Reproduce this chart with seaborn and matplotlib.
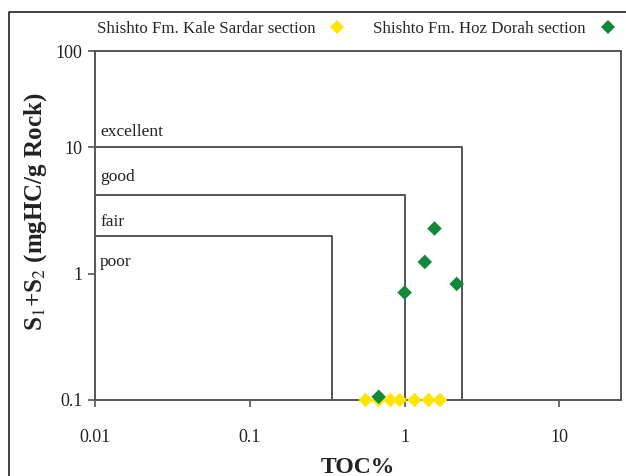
import numpy as np
import pandas as pd
import matplotlib
matplotlib.use("Agg")
import matplotlib.pyplot as plt
from matplotlib.lines import Line2D
from matplotlib.ticker import NullLocator
import seaborn as sns

# values
toc_kale = [0.56, 0.68, 0.81, 0.93, 1.16, 1.43, 1.69]
s12_kale = [0.1, 0.1, 0.1, 0.1, 0.1, 0.1, 0.1]
toc_hoz = [0.68, 1.0, 2.17, 1.35, 1.56]
s12_hoz = [0.106, 0.71, 0.83, 1.24, 2.28]
series = ["Shishto Fm. Kale Sardar section", "Shishto Fm. Hoz Dorah section"]

# potential classes: right TOC edge and top S1+S2 edge of each box
class_names = ["excellent", "good", "fair"]
class_toc = [2.35, 1.0, 0.34]
class_s12 = [10, 4.2, 2.0]
label_s12 = [14.3, 5.8, 2.57, 1.24]
label_names = ["excellent", "good", "fair", "poor"]

xticks = [0.01, 0.1, 1, 10]
yticks = [0.1, 1, 10, 100]

df = pd.DataFrame({
    "TOC": toc_kale + toc_hoz,
    "S1S2": s12_kale + s12_hoz,
    "section": [series[0]] * len(toc_kale) + [series[1]] * len(toc_hoz),
})

sns.set_theme(style="white")
plt.rcParams["font.family"] = ["Liberation Serif", "DejaVu Serif"]
plt.rcParams["mathtext.fontset"] = "stix"

line_c = "#555555"
text_c = "#222222"

fig = plt.figure(figsize=(6.26, 4.76), dpi=100)
ax = fig.add_axes([95 / 626, 1 - 400 / 476, 526 / 626, 349 / 476])


# the reference's top decade is squeezed compared to the lower two
def fwd(y):
    ly = np.log10(np.clip(y, 1e-6, None))
    return np.where(ly <= 1, ly, 1 + (ly - 1) * 0.764)


def inv(v):
    v = np.asarray(v, dtype=float)
    return np.where(v <= 1, 10 ** v, 10 ** (1 + (v - 1) / 0.764))


ax.set_xscale("log")
ax.set_yscale("function", functions=(fwd, inv))
ax.set_xlim(0.01, 25)
ax.set_ylim(0.1, 100)

for name, xr, yt in zip(class_names, class_toc, class_s12):
    ax.plot([0.01, xr, xr], [yt, yt, 0.1], color=line_c, lw=1.4, zorder=1)

for name, yv in zip(label_names, label_s12):
    ax.text(0.0108, yv, name, fontsize=12.5, va="center", ha="left", color=text_c)

sns.scatterplot(data=df, x="TOC", y="S1S2", hue="section", hue_order=series,
                palette=["#FFE600", "#108A38"], marker="D", s=55, linewidth=0,
                ax=ax, clip_on=False, zorder=3)

ax.set_xticks(xticks)
ax.set_xticklabels(["0.01", "0.1", "1", "10"])
ax.set_yticks(yticks)
ax.set_yticklabels(["0.1", "1", "10", "100"])
ax.xaxis.set_minor_locator(NullLocator())
ax.yaxis.set_minor_locator(NullLocator())
ax.tick_params(axis="x", direction="out", length=5, width=1.2, color=line_c,
               pad=16, labelsize=13, labelcolor=text_c, bottom=True)
ax.tick_params(axis="y", direction="out", length=5, width=1.2, color=line_c,
               pad=4, labelsize=13, labelcolor=text_c, left=True)

for sp in ax.spines.values():
    sp.set_color(line_c)
    sp.set_linewidth(1.4)

ax.set_xlabel("TOC%", fontsize=17, fontweight="bold", color=text_c)
ax.set_ylabel("S$_{1}$+S$_{2}$ (mgHC/g Rock)", fontsize=18, fontweight="bold",
              color=text_c)
ax.xaxis.set_label_coords(0.5, -0.162)
ax.yaxis.set_label_coords(-0.087, 0.54)

sns.move_legend(ax, "center", bbox_to_anchor=(0.505, 1.064), ncol=2,
                frameon=False, title=None, markerfirst=False, fontsize=12.2,
                handletextpad=0.3, columnspacing=1.1)

# outer frame of the picture
fig.add_artist(Line2D([9 / 626, 9 / 626, 1], [0, 1 - 12 / 476, 1 - 12 / 476],
                      transform=fig.transFigure, color=text_c, lw=1.2))

fig.savefig("out.png", dpi=100)
